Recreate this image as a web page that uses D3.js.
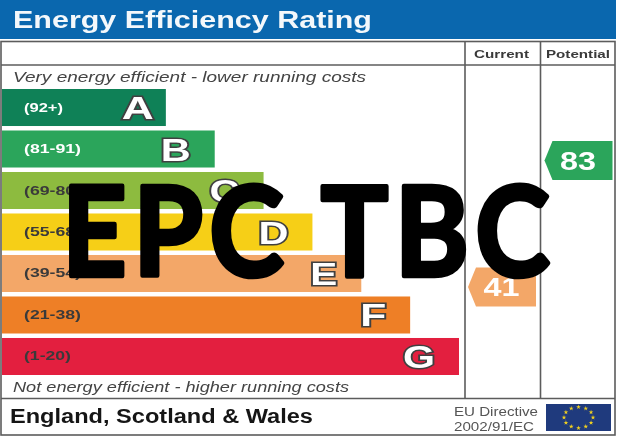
<!DOCTYPE html>
<html>
<head>
<meta charset="utf-8">
<style>html,body{margin:0;padding:0;background:#fff}svg{display:block}</style>
<script src="https://cdnjs.cloudflare.com/ajax/libs/d3/7.8.5/d3.min.js"></script>
</head>
<body>
<svg id="c" width="618" height="437"></svg>
<script>
const grades = ["A","B","C","D","E","F","G"];
const ranges = ["(92+)","(81-91)","(69-80)","(55-68)","(39-54)","(21-38)","(1-20)"];
const barLength = [1,2,3,4,5,6,7];
const gradeColors = ["#0f8157","#2ba55b","#8dbb3f","#f6cf17","#f3a768","#ee7f26","#e31f3f"];
const rangeColors = ["#ffffff","#ffffff","#3a3a3a","#3a3a3a","#3a3a3a","#3a3a3a","#3a3a3a"];
const columns = ["Current","Potential"];
const scores = [41,83];
const scoreColors = ["#f3a768","#2ba55b"];

const root = d3.select("#c");
const font = "'Liberation Sans',Arial,sans-serif";
function label(sel,o){
  return sel.append("text").attr("x",o.x).attr("y",o.y).text(o.t)
    .attr("font-family",o.f||font).attr("font-size",o.s).attr("font-weight",o.w||"normal")
    .attr("font-style",o.i||"normal").attr("fill",o.c)
    .attr("textLength",o.l).attr("lengthAdjust","spacingAndGlyphs");
}
const y = d3.scaleBand().domain(grades).range([89,375]).paddingInner(0.108);
const x = d3.scaleLinear().domain([0,7]).range([117,459]);
const scoreY = d3.scaleLinear().domain([41,83]).range([287,160.5]);
const colX = d3.scaleBand().domain(columns).range([465,618]);

root.append("rect").attr("width",618).attr("height",437).attr("fill","#fff");
const svg = root.append("g").style("filter","blur(0.45px)");
svg.append("rect").attr("x",0).attr("y",0).attr("width",616).attr("height",39).attr("fill","#0a67ae");
label(svg,{x:13,y:28,t:"Energy Efficiency Rating",s:24,w:"bold",c:"#f4f8fb",l:359});

const frame = svg.append("g").attr("stroke","#5c5c5c").attr("stroke-width",1.6).attr("fill","none");
frame.append("rect").attr("x",1).attr("y",41.5).attr("width",614).attr("height",393.5);
frame.append("line").attr("x1",1).attr("x2",615).attr("y1",65).attr("y2",65);
frame.append("line").attr("x1",1).attr("x2",615).attr("y1",398.5).attr("y2",398.5);
frame.append("line").attr("x1",465).attr("x2",465).attr("y1",41.5).attr("y2",398.5);
frame.append("line").attr("x1",540.5).attr("x2",540.5).attr("y1",41.5).attr("y2",398.5);

const colLens = [55,64];
columns.forEach((c,i)=>{
  label(svg,{x:colX(c)+colX.bandwidth()/2-colLens[i]/2-1.75,y:58,t:c,s:11.5,w:"bold",c:"#3a3a3a",l:colLens[i]});
});

label(svg,{x:13,y:82,t:"Very energy efficient - lower running costs",s:14.5,i:"italic",c:"#444",l:353});
label(svg,{x:13,y:392,t:"Not energy efficient - higher running costs",s:14,i:"italic",c:"#444",l:336});

const rows = svg.append("g").selectAll("g").data(grades).join("g");
rows.append("rect").attr("x",2).attr("y",d=>y(d)).attr("height",y.bandwidth())
  .attr("width",(d,i)=>x(barLength[i])-2).attr("fill",(d,i)=>gradeColors[i]);
const rangeLens = [39,57,57,57,57,57,47];
rows.append("text").attr("x",24).attr("y",d=>y(d)+y.bandwidth()/2+4).text((d,i)=>ranges[i])
  .attr("font-family",font).attr("font-size",13).attr("font-weight","bold")
  .attr("fill",(d,i)=>rangeColors[i]).attr("textLength",(d,i)=>rangeLens[i]).attr("lengthAdjust","spacingAndGlyphs");
const letterLens = [32,30,30,30,27,26,32];
rows.append("text").attr("x",(d,i)=>x(barLength[i])-(d==="A"?12:24)-letterLens[i]).attr("y",d=>y(d)+y.bandwidth()/2+11.5).text(d=>d)
  .attr("font-family",font).attr("font-size",32).attr("font-weight","bold")
  .attr("fill","#fff").attr("stroke","#404040").attr("stroke-width",3).attr("paint-order","stroke")
  .attr("textLength",(d,i)=>letterLens[i]).attr("lengthAdjust","spacingAndGlyphs");

const arrowW = 68, arrowH = 39;
const arrows = svg.append("g").selectAll("g").data(scores).join("g")
  .attr("transform",(d,i)=>`translate(${colX(columns[i])+3},${scoreY(d)})`);
arrows.append("path").attr("d",`M0,0L8,${-arrowH/2}H${arrowW}V${arrowH/2}H8Z`).attr("fill",(d,i)=>scoreColors[i]);
arrows.append("text").attr("x",33.5).attr("y",9).attr("text-anchor","middle").text(d=>d)
  .attr("font-family",font).attr("font-size",25).attr("font-weight","bold").attr("fill","#fff")
  .attr("textLength",36).attr("lengthAdjust","spacingAndGlyphs");

label(svg,{x:10,y:423,t:"England, Scotland & Wales",s:19.5,w:"bold",c:"#151515",l:303});
label(svg,{x:454,y:416,t:"EU Directive",s:13,c:"#555",l:84});
label(svg,{x:454,y:431,t:"2002/91/EC",s:13,c:"#555",l:80});

svg.append("rect").attr("x",546).attr("y",404).attr("width",65).attr("height",27).attr("fill","#1f3a7d");
const stars = d3.range(12);
svg.append("g").selectAll("path").data(stars).join("path")
  .attr("d",d3.symbol(d3.symbolStar,7))
  .attr("fill","#f0d020")
  .attr("transform",d=>{
    const a=d/12*2*Math.PI;
    return `translate(${578.5+14.5*Math.sin(a)},${417.5-10.5*Math.cos(a)})`;
  });

root.append("text").attr("transform","translate(62,276) scale(0.9,1)").text("EPC TBC")
  .attr("font-family","Lato,'Open Sans',sans-serif").attr("font-size",125).attr("font-weight","700")
  .attr("fill","#000").attr("stroke","#000").attr("stroke-width",4.5).attr("stroke-linejoin","round")
  .attr("textLength",542).attr("lengthAdjust","spacing");
</script>
</body>
</html>
